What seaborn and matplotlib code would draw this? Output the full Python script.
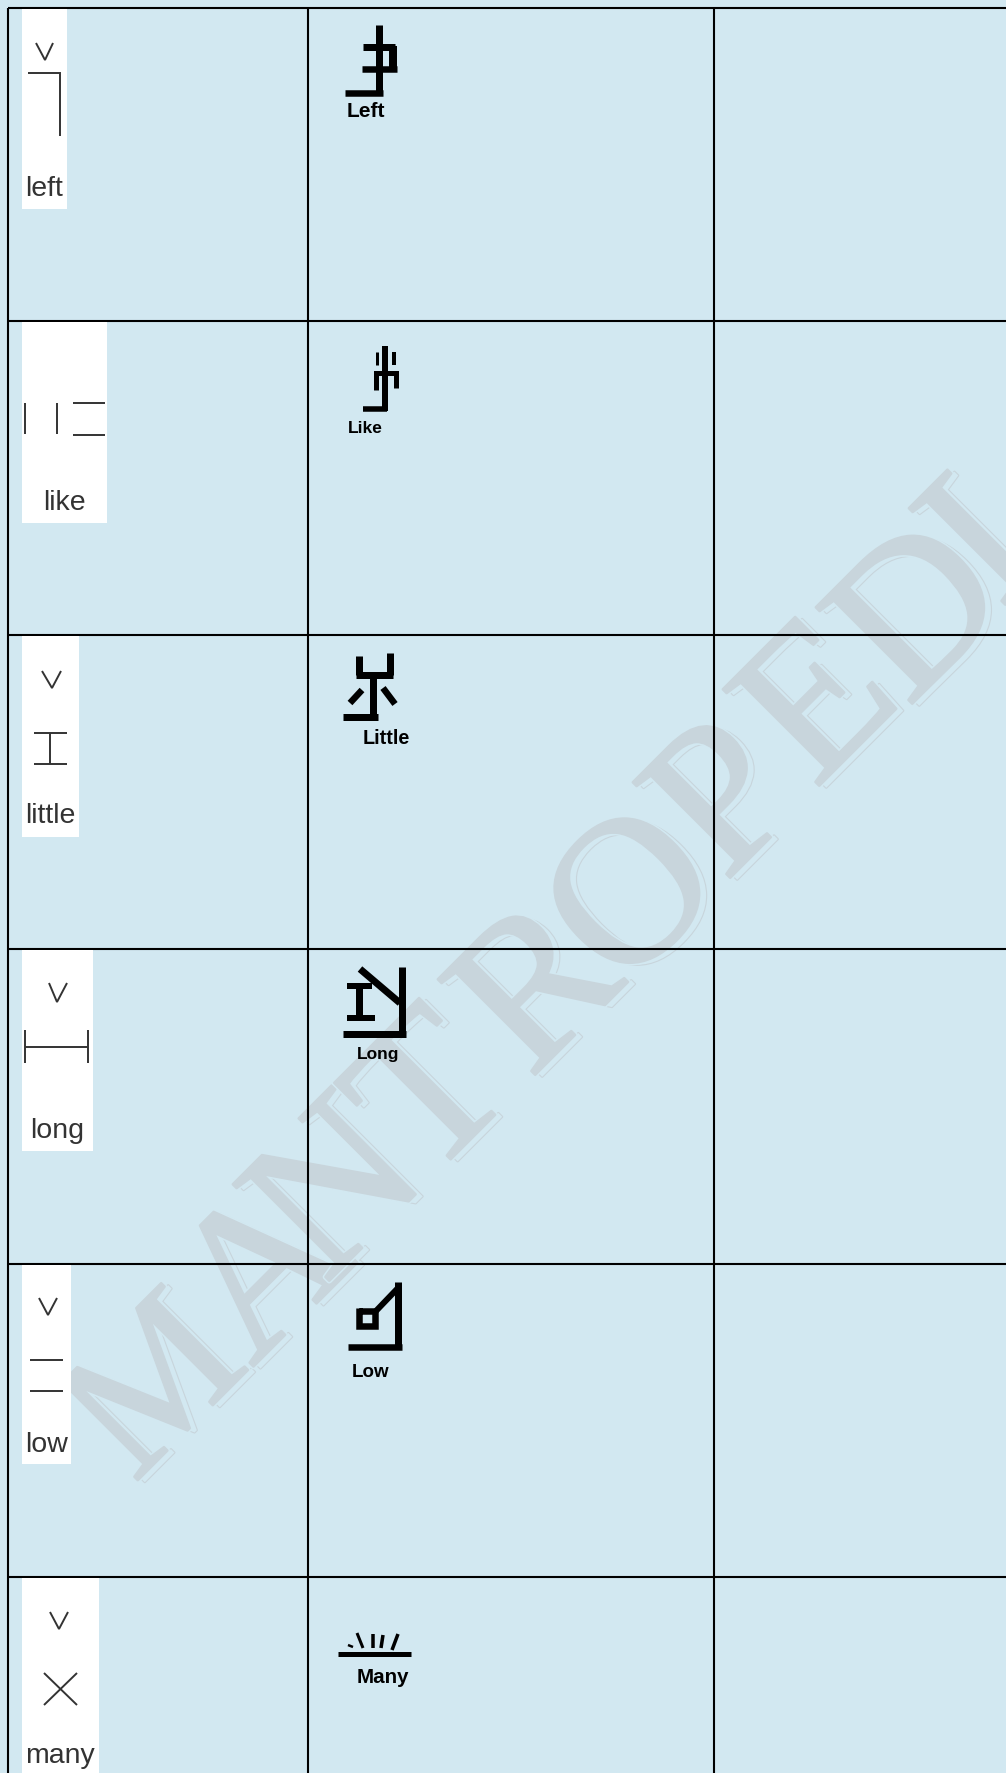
import matplotlib
matplotlib.use("Agg")
import matplotlib.pyplot as plt
import matplotlib.patheffects as pe
import pandas as pd
import seaborn as sns

# table layout, in pixels
column_edges = [8, 308, 714]
row_edges = [8, 321, 635, 949, 1264, 1577]
page_w, page_h = 1006, 1773

# white picture behind each english word
patch_right = [67, 107, 79, 93, 71, 99]
patch_left = 22
patch_bottom = [209, 523, 837, 1151, 1464, 1773]

# english words
words = ["left", "like", "little", "long", "low", "many"]
word_x = [44.5, 64, 50.5, 57, 47, 60]
word_y = [196, 510, 823, 1138, 1452, 1763]

# script glyph captions
captions = ["Left", "Like", "Little", "Long", "Low", "Many"]
caption_x = [347, 348, 363, 357, 352, 357]
caption_y = [117, 433, 744, 1059, 1377, 1683]
caption_size = [15, 12.5, 14.2, 12.5, 13.5, 14.8]

# watermark letters and where each one starts on its slanted baseline
mark_letters = list("MANTROPEDIA")
mark_x = [134, 252, 325, 428, 530, 622, 725, 815, 908, 1000, 1075]
mark_y = [1484, 1368, 1285, 1182, 1080, 992, 883, 790, 708, 610, 535]
mark_size = [135, 150, 150, 150, 150, 150, 150, 150, 150, 150, 150]

# thin pen shapes in the first column
thin_strokes = [
    [(36, 43), (45, 60), (53, 43)],
    [(28, 73), (60, 73), (60, 136)],
    [(25, 403), (25, 434)],
    [(57, 403), (57, 434)],
    [(73, 403), (105, 403)],
    [(73, 435), (105, 435)],
    [(42, 671), (52, 688), (61, 671)],
    [(34, 733), (67, 733)],
    [(34, 764), (67, 764)],
    [(50.5, 733), (50.5, 764)],
    [(49, 983), (57, 1002), (67, 983)],
    [(25, 1030), (25, 1063)],
    [(88, 1030), (88, 1063)],
    [(25, 1047), (88, 1047)],
    [(39, 1298), (48, 1315), (57, 1298)],
    [(30, 1360), (63, 1360)],
    [(30, 1391), (63, 1391)],
    [(50, 1612), (59, 1629), (68, 1612)],
    [(44, 1673), (77, 1705)],
    [(77, 1673), (44, 1705)],
]

# thick brush shapes in the second column: (width, points)
brush_strokes = [
    # left
    (7, [(379, 25), (379, 95)]),
    (6.5, [(345, 93), (383, 93)]),
    (7, [(363, 47), (395, 47)]),
    (8, [(393, 46), (393, 72)]),
    (6.5, [(362, 69), (397, 69)]),
    # like
    (6, [(385, 346), (385, 411)]),
    (5.5, [(363, 409), (387, 409)]),
    (3, [(377, 352), (377, 365)]),
    (4, [(394.5, 352), (394.5, 365)]),
    (5, [(376.5, 390), (376.5, 373), (396, 373), (396, 388)]),
    # little
    (7, [(359, 656), (359, 675)]),
    (7, [(390, 653), (390, 675)]),
    (7, [(356, 675), (393, 675)]),
    (7, [(373, 675), (373, 717)]),
    (7, [(343, 717), (378, 717)]),
    (6.5, [(362, 690), (350, 703)]),
    (6.5, [(383, 688), (395, 704)]),
    # long
    (7, [(360, 969), (400, 1003)]),
    (7, [(402, 967), (402, 1037)]),
    (7, [(343, 1034), (406, 1034)]),
    (6, [(347, 986), (372, 986)]),
    (7, [(359, 986), (359, 1019)]),
    (6, [(347, 1018), (375, 1018)]),
    # low
    (7, [(398, 1282), (398, 1349)]),
    (6.5, [(348, 1347), (402, 1347)]),
    (6, [(375, 1312), (398, 1288)]),
    (6.5, [(359, 1311), (375, 1311), (375, 1326), (359, 1326), (359, 1308)]),
    # many
    (5, [(338, 1654), (411, 1654)]),
    (2.5, [(348, 1645), (353, 1647)]),
    (3, [(357, 1633), (363, 1648)]),
    (3.5, [(373, 1634), (373, 1648)]),
    (3.5, [(383, 1635), (381, 1648)]),
    (3.5, [(398, 1634), (392, 1650)]),
]

# colours
cell_blue = "#D2E8F1"
mark_grey = "#C8D5DC"
pen_grey = "#333333"

sns.set_theme(style="white", rc={"axes.facecolor": cell_blue, "figure.facecolor": cell_blue})

fig = plt.figure(figsize=(page_w / 100, page_h / 100), dpi=100)
ax = fig.add_axes([0, 0, 1, 1])


def draw_path(points, width, color, zorder):
    frame = pd.DataFrame(points, columns=["x", "y"])
    frame["stroke"] = 0
    sns.lineplot(data=frame, x="x", y="y", units="stroke", estimator=None, sort=False,
                 color=color, linewidth=width, ax=ax, legend=False, zorder=zorder,
                 solid_capstyle="butt", solid_joinstyle="miter")


# watermark: thin shadow outlines first, the solid letters over them
for letter, x, y, size in zip(mark_letters, mark_x, mark_y, mark_size):
    ax.text(x + 7, y + 2, letter, rotation=45, rotation_mode="anchor", fontsize=size,
            family="Liberation Serif", color=cell_blue, zorder=1, clip_on=True,
            path_effects=[pe.withStroke(linewidth=1.6, foreground=mark_grey)])
for letter, x, y, size in zip(mark_letters, mark_x, mark_y, mark_size):
    ax.text(x, y, letter, rotation=45, rotation_mode="anchor", fontsize=size,
            family="Liberation Serif", color=mark_grey, zorder=1.1, clip_on=True,
            path_effects=[pe.withStroke(linewidth=4, foreground=cell_blue),
                          pe.withStroke(linewidth=1.8, foreground=mark_grey)])

# table rules
for y in row_edges:
    draw_path([(column_edges[0], y), (page_w, y)], 1.5, "black", 2)
for x in column_edges:
    draw_path([(x, row_edges[0]), (x, page_h)], 1.5, "black", 2)

# white pictures
for top, bottom, right in zip(row_edges, patch_bottom, patch_right):
    ax.bar(patch_left, bottom - top - 1, width=right - patch_left, bottom=top + 1,
           align="edge", color="white", linewidth=0, zorder=3)

for points in thin_strokes:
    draw_path(points, 1.4, pen_grey, 4)
for width, points in brush_strokes:
    # widths were read in pixels, line widths are in points
    draw_path(points, width * 0.72, "black", 4)

for word, x, y in zip(words, word_x, word_y):
    ax.text(x, y, word, ha="center", va="baseline", fontsize=20.5,
            family="Liberation Sans", color=pen_grey, zorder=5)
for caption, x, y, size in zip(captions, caption_x, caption_y, caption_size):
    ax.text(x, y, caption, ha="left", va="baseline", fontsize=size,
            family="Liberation Sans", weight="bold", color="black", zorder=5)

ax.set_xlim(0, page_w)
ax.set_ylim(page_h, 0)
ax.axis("off")
fig.patch.set_facecolor(cell_blue)
fig.savefig("out.png", dpi=100, facecolor=cell_blue)
